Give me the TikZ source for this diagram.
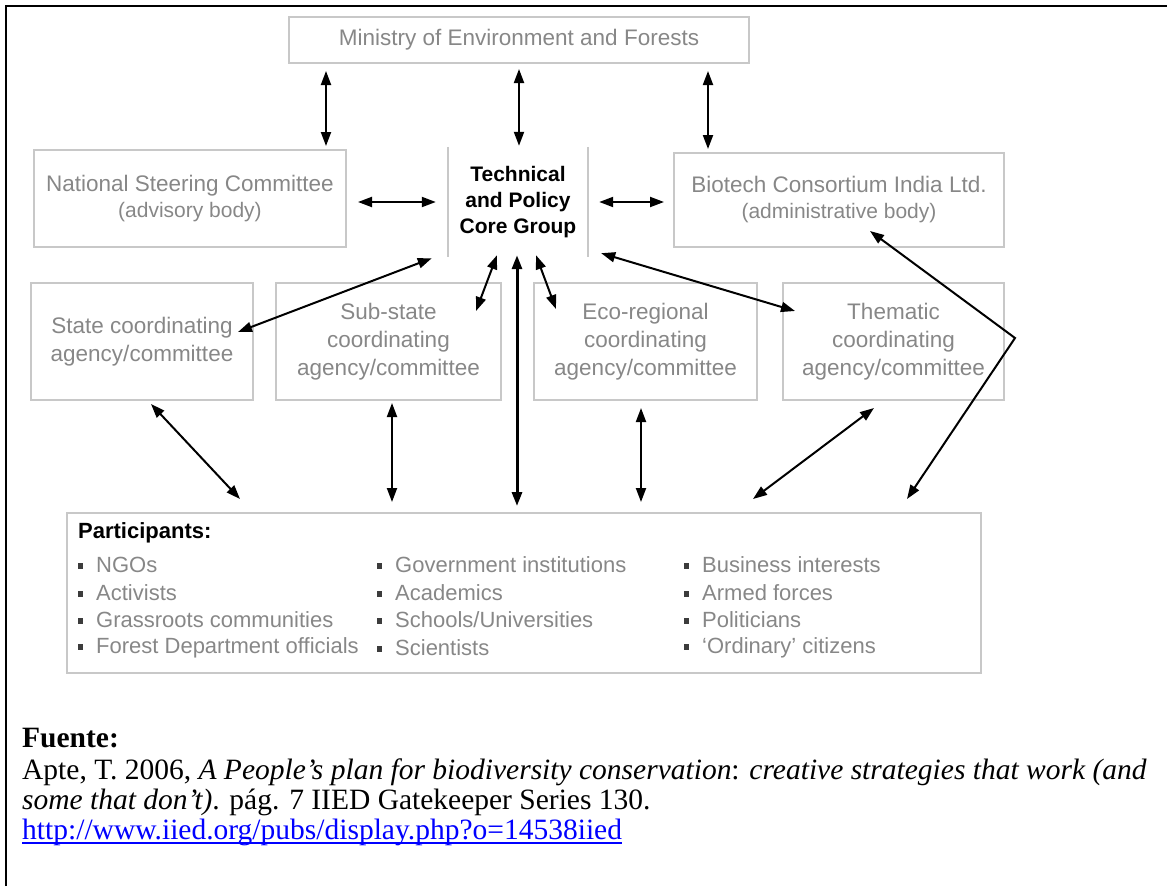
\documentclass[tikz,border=0pt]{standalone}
\usepackage{fontspec}
\setmainfont{Liberation Serif}
\newfontfamily\diagfont{Liberation Sans}
\usetikzlibrary{arrows.meta,calc}
\definecolor{txtgray}{RGB}{135,135,135}
\definecolor{boxgray}{RGB}{200,200,200}
\definecolor{bulgray}{RGB}{60,60,60}
\definecolor{linkblue}{RGB}{0,0,255}
\newcommand{\pbul}{\makebox[18pt][l]{\textcolor{bulgray}{\rule[4pt]{5pt}{6pt}}}}
\begin{document}
\begin{tikzpicture}[x=1pt,y=-1pt,
  gbox/.style={draw=boxgray, line width=2pt, inner sep=0pt, align=center,
    text=txtgray, font=\diagfont\fontsize{22.5}{28}\selectfont},
  ptxt/.style={inner sep=0pt, anchor=west, text=txtgray,
    font=\diagfont\fontsize{22}{26}\selectfont},
  captxt/.style={inner sep=0pt, anchor=base west, font=\fontsize{29.5}{30}\selectfont},
  biarrow/.style={line width=2pt, draw=black,
    {Triangle[length=14pt,width=10pt]}-{Triangle[length=14pt,width=10pt]}}
]
\useasboundingbox (0,0) rectangle (1167,886);
% outer frame (only left and top visible)
\draw[line width=2.5pt] (6,886) -- (6,6) -- (1167,6);

% nodes
\node[gbox, minimum width=460pt, minimum height=46pt] (ministry) at (519,40)
  {Ministry of Environment and Forests};
\node[gbox, minimum width=312pt, minimum height=97pt] (nsc) at (190,198.5)
  {National Steering Committee\\[-2pt]{\fontsize{21}{28}\selectfont (advisory body)}};
\node[inner sep=0pt, minimum width=140pt, minimum height=110pt, align=center,
  font=\diagfont\bfseries\fontsize{21}{26}\selectfont] (tpcg) at (518,202)
  {Technical\\and Policy\\Core Group};
\draw[boxgray, line width=2pt] (tpcg.north west) -- (tpcg.south west);
\draw[boxgray, line width=2pt] (tpcg.north east) -- (tpcg.south east);
\node[gbox, minimum width=330pt, minimum height=94pt] (bio) at (839,200)
  {Biotech Consortium India Ltd.\\[-2pt]{\fontsize{21}{28}\selectfont (administrative body)}};

\node[gbox, minimum width=222pt, minimum height=117pt] (state) at (142,341.5)
  {State coordinating\\agency/committee};
\node[gbox, minimum width=225pt, minimum height=117pt] (sub) at (388.5,341.5)
  {Sub-state\\coordinating\\agency/committee};
\node[gbox, minimum width=223pt, minimum height=117pt] (eco) at (645.5,341.5)
  {Eco-regional\\coordinating\\agency/committee};
\node[gbox, minimum width=221pt, minimum height=117pt] (them) at (893.5,341.5)
  {Thematic\\coordinating\\agency/committee};

\node[gbox, minimum width=914pt, minimum height=160pt] (part) at (524,593) {};
\node[ptxt, text=black, font=\diagfont\bfseries\fontsize{22}{26}\selectfont] (ptitle) at (78,533) {Participants:};
\node[ptxt] (pa1) at (78,565) {\pbul NGOs};
\node[ptxt] (pa2) at (78,593) {\pbul Activists};
\node[ptxt] (pa3) at (78,620) {\pbul Grassroots communities};
\node[ptxt] (pa4) at (78,648) {\pbul Forest Department officials};
\node[ptxt] (pb1) at (377,565) {\pbul Government institutions};
\node[ptxt] (pb2) at (377,593) {\pbul Academics};
\node[ptxt] (pb3) at (377,620) {\pbul Schools/Universities};
\node[ptxt] (pb4) at (377,648) {\pbul Scientists};
\node[ptxt] (pc1) at (684,565) {\pbul Business interests};
\node[ptxt] (pc2) at (684,593) {\pbul Armed forces};
\node[ptxt] (pc3) at (684,620) {\pbul Politicians};
\node[ptxt] (pc4) at (684,648) {\pbul ‘Ordinary’ citizens};

% connectors
\draw[biarrow] ([xshift=-21pt,yshift=-7pt]ministry.south -| nsc.north east) -- ([xshift=-21pt,yshift=3pt]nsc.north east);
\draw[biarrow] ([yshift=-5pt]ministry.south) -- ([yshift=1pt]ministry.south |- tpcg.north);
\draw[biarrow] ([xshift=35pt,yshift=-7pt]ministry.south -| bio.north west) -- ([xshift=35pt,yshift=3pt]bio.north west);
\draw[biarrow] ([xshift=11pt]tpcg.west -| nsc.east) -- ([xshift=-12pt]tpcg.west);
\draw[biarrow] ([xshift=11pt]tpcg.east) -- ([xshift=-9pt]tpcg.east -| bio.west);
\draw[biarrow] ([xshift=-16pt,yshift=-1pt]tpcg.south west) -- ([xshift=-16pt,yshift=9.5pt]state.east);
\draw[biarrow] ([xshift=-21pt,yshift=2pt]tpcg.south) -- ([xshift=-26pt,yshift=-29pt]sub.north east);
\draw[biarrow, line width=3pt] ([xshift=-1pt,yshift=2pt]tpcg.south) -- ([xshift=-1pt,yshift=6pt]tpcg.south |- part.north);
\draw[biarrow] ([xshift=18pt,yshift=2pt]tpcg.south) -- ([xshift=23pt,yshift=-27pt]eco.north west);
\draw[biarrow] ([xshift=13pt,yshift=4pt]tpcg.south east) -- ([xshift=13pt,yshift=-29pt]them.north west);
\coordinate (bend) at (1015,338);
\draw[biarrow] ([xshift=31pt,yshift=17pt]bio.south) -- (bend) -- ([xshift=-75pt,yshift=13pt]part.north east);
\draw[biarrow] ([xshift=9pt,yshift=-3pt]state.south) -- ([xshift=174pt,yshift=13pt]part.north west);
\draw[biarrow] ([xshift=3.5pt,yshift=-2pt]sub.south) -- ([xshift=3.5pt,yshift=10pt]sub.south |- part.north);
\draw[biarrow] ([xshift=-4.5pt,yshift=-7pt]eco.south) -- ([xshift=-4.5pt,yshift=10pt]eco.south |- part.north);
\draw[biarrow] ([xshift=-19.5pt,yshift=-7pt]them.south) -- ([xshift=-229pt,yshift=13pt]part.north east);

% caption
\node[captxt] (fuente) at (22,747) {\textbf{Fuente:}};
\node[captxt] (ref1) at (22,779) {Apte, T. 2006, \textit{A People’s plan for biodiversity conservation}: \textit{creative strategies that work (and}};
\node[captxt] (ref2) at (22,809) {\textit{some that don’t)}. pág. 7 IIED Gatekeeper Series 130.};
\node[captxt, text=linkblue] (ref3) at (22,839) {http://www.iied.org/pubs/display.php?o=14538iied};
\draw[linkblue, line width=1.6pt] ([yshift=-4pt]ref3.base west) -- ([yshift=-4pt]ref3.base east);
\end{tikzpicture}
\end{document}
